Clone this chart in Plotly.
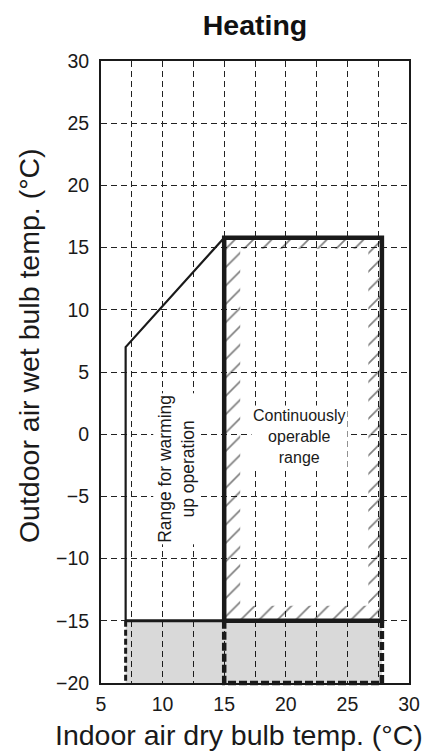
import plotly.graph_objects as go

# ---- data ----
x_ticks = [5, 10, 15, 20, 25, 30]
y_ticks = [-20, -15, -10, -5, 0, 5, 10, 15, 20, 25, 30]
x_range = [5, 30]
y_range = [-20, 30]

# continuously operable range (indoor DB x outdoor WB)
cont_x = [15, 27.8]          # indoor dry bulb min / max
cont_y = [-15, 15.8]         # outdoor wet bulb min / max

# warming-up range outline: bottom-left corner, knee, top join
warm_x = [7, 7, 15]
warm_y = [-15, 7, 15.8]

# area below the lower limit (shaded)
shade_x = [7, 27.8]
shade_y = [-20, -15]

# hatch band widths inside the continuous range (left, right, bottom, top), in data units
hatch_w = [1.3, 1.1, 1.2, 0.9]

FONT = "Liberation Sans, Arial, sans-serif"
INK = "#1a1a1a"


def y_paper(v):
    return (v - y_range[0]) / (y_range[1] - y_range[0])


fig = go.Figure()

# shaded area (semi-transparent so the grid shows through)
fig.add_trace(go.Scatter(
    x=[shade_x[0], shade_x[1], shade_x[1], shade_x[0], shade_x[0]],
    y=[shade_y[0], shade_y[0], shade_y[1], shade_y[1], shade_y[0]],
    mode="lines", fill="toself", fillcolor="rgba(0,0,0,0.15)",
    line=dict(width=0), hoverinfo="skip", showlegend=False))

# hatched ring inside continuous range (outer CCW, inner CW -> hole)
x0, x1 = cont_x
y0, y1 = cont_y
ix0, ix1 = x0 + hatch_w[0], x1 - hatch_w[1]
iy0, iy1 = y0 + hatch_w[2], y1 - hatch_w[3]
fig.add_trace(go.Scatter(
    x=[x0, x1, x1, x0, x0, ix0, ix0, ix1, ix1, ix0, x0],
    y=[y0, y0, y1, y1, y0, iy0, iy1, iy1, iy0, iy0, y0],
    mode="lines", fill="toself", fillcolor="rgba(0,0,0,0)",
    fillpattern=dict(shape="/", fgcolor="#000", bgcolor="rgba(0,0,0,0)",
                     size=13, solidity=0.13),
    line=dict(width=0), hoverinfo="skip", showlegend=False))

# warming-up range thin outline
fig.add_trace(go.Scatter(
    x=warm_x, y=warm_y, mode="lines",
    line=dict(color=INK, width=2.2), hoverinfo="skip", showlegend=False))
fig.add_trace(go.Scatter(
    x=[warm_x[0], cont_x[0]], y=[cont_y[0], cont_y[0]], mode="lines",
    line=dict(color=INK, width=3), hoverinfo="skip", showlegend=False))

# shaded area dashed borders (shapes in paper-y so they are not clipped at the frame)
fig.add_shape(
    type="line", xref="x", yref="paper",
    x0=shade_x[0], x1=shade_x[0], y0=y_paper(shade_y[1]), y1=y_paper(shade_y[0]),
    line=dict(color=INK, width=3, dash="6px,3px"), layer="above")
dash_path = "M {a},{b} L {a},{c} L {d},{c} L {d},{b}".format(
    a=cont_x[0], b=y_paper(shade_y[1]), c=y_paper(shade_y[0]), d=cont_x[1])
fig.add_shape(
    type="path", xref="x", yref="paper", path=dash_path,
    line=dict(color=INK, width=4.5, dash="8px,3px"), layer="above")

# continuous range thick outline
fig.add_trace(go.Scatter(
    x=[x0, x1, x1, x0, x0], y=[y0, y0, y1, y1, y0], mode="lines",
    line=dict(color=INK, width=4.5), hoverinfo="skip", showlegend=False))

grid = dict(showgrid=True, gridcolor="#222", gridwidth=1, griddash="6px,4px")

fig.update_xaxes(
    range=x_range, tickvals=x_ticks, ticktext=[str(v) for v in x_ticks],
    showline=True, linecolor=INK, linewidth=2, mirror=True,
    ticks="", zeroline=False, **grid,
    minor=dict(dtick=2.5, tick0=0, showgrid=True, gridcolor="#222", gridwidth=1, griddash="6px,4px"),
    tickfont=dict(family=FONT, size=19.5, color=INK), ticklabelstandoff=3)
fig.update_yaxes(
    range=y_range, tickvals=y_ticks,
    ticktext=[str(v).replace("-", "\u2212") for v in y_ticks],
    showline=True, linecolor=INK, linewidth=2, mirror=True,
    ticks="", zeroline=False, **grid,
    tickfont=dict(family=FONT, size=19.5, color=INK), ticklabelstandoff=6)

fig.add_annotation(
    x=11.07, y=-2.8, xref="x", yref="y", text="Range for warming<br>up operation",
    textangle=-90, showarrow=False, bgcolor="white",
    font=dict(family=FONT, size=17.5, color=INK))
fig.add_annotation(
    x=21.1, y=-0.2, xref="x", yref="y", text="Continuously<br>operable<br>range",
    showarrow=False, bgcolor="white",
    font=dict(family=FONT, size=16, color=INK))

# axis titles
fig.add_annotation(
    x=-0.233, y=0.542, xref="paper", yref="paper", xanchor="center", yanchor="middle",
    text="Outdoor air wet bulb temp. (°C)", textangle=-90, showarrow=False,
    font=dict(family=FONT, size=28.5, color=INK))
fig.add_annotation(
    x=0.447, y=-0.0836, xref="paper", yref="paper", xanchor="center", yanchor="middle",
    text="Indoor air dry bulb temp. (°C)", showarrow=False,
    font=dict(family=FONT, size=28.5, color=INK))

fig.update_layout(
    width=432, height=754,
    margin=dict(l=101, r=18, t=61, b=71),
    paper_bgcolor="white", plot_bgcolor="white",
    title=dict(text="<b>Heating</b>", x=0.5, xref="paper", xanchor="center",
               y=1 - 25 / 754, yref="container", yanchor="middle",
               font=dict(family=FONT, size=28.5, color="#111")),
    showlegend=False)

fig.write_html("out.html", config={"displayModeBar": False},
               post_script="document.body.style.margin='0';")
